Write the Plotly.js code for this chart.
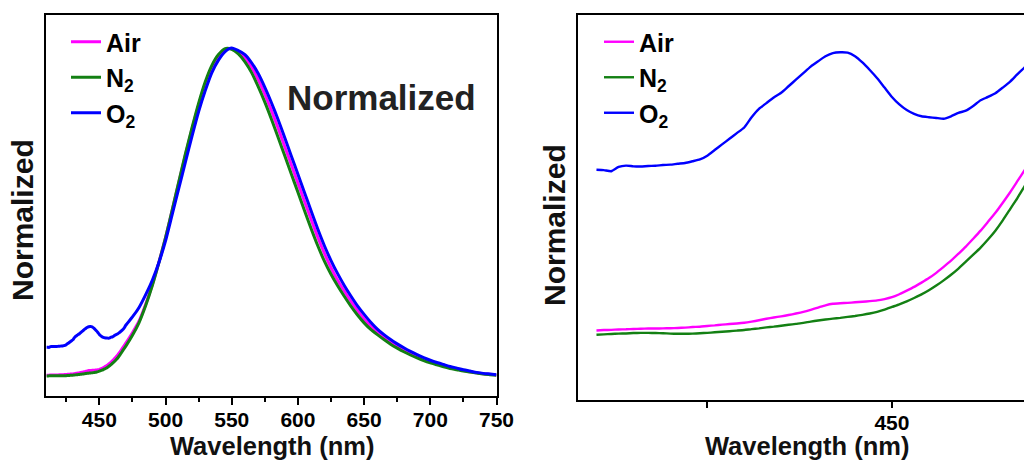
<!DOCTYPE html>
<html>
<head>
<meta charset="utf-8">
<script src="https://cdn.plot.ly/plotly-3.0.1.min.js"></script>
<style>
html, body { margin:0; padding:0; overflow:hidden; background:#fff; }
#chart { width:1060px; height:461px; }
</style>
</head>
<body>
<div id="chart"></div>
<script>
// Wavelength grid (nm)
const wavelength = [
  410,411,412,413,414,415,416,417,418,419,420,421,422,423,424,425,426,427,428,429,
  430,431,432,433,434,435,436,437,438,439,440,441,442,443,444,445,446,447,448,449,
  450,451,452,453,454,455,456,457,458,459,460,461,462,463,464,465,466,467,468,469,470,
  475,480,485,490,495,500,505,510,515,520,525,530,535,540,545,550,
  555,560,565,570,575,580,585,590,595,600,605,610,615,620,625,630,635,640,645,650,
  655,660,665,670,675,680,685,690,695,700,705,710,715,720,725,730,735,740,745,750
];

// Normalized intensity – Air
const airValues = [
  0.0023,0.0025,0.0026,0.0028,0.0029,0.0031,0.0032,0.0033,0.0033,0.0034,0.0035,0.0036,0.0038,0.0041,0.0043,0.0047,0.0050,0.0054,0.0057,0.0060,
  0.0064,0.0070,0.0077,0.0085,0.0092,0.0098,0.0105,0.0113,0.0122,0.0133,0.0145,0.0157,0.0165,0.0168,0.0170,0.0173,0.0176,0.0179,0.0183,0.0190,
  0.0200,0.0216,0.0235,0.0255,0.0278,0.0302,0.0330,0.0362,0.0395,0.0432,0.0470,0.0512,0.0555,0.0602,0.0650,0.0704,0.0760,0.0820,0.0880,0.0940,0.1000,
  0.132,0.168,0.219,0.278,0.347,0.422,0.505,0.590,0.674,0.753,0.826,0.890,0.940,0.975,0.995,0.998,
  0.988,0.970,0.942,0.904,0.859,0.809,0.756,0.700,0.644,0.588,0.532,0.477,0.423,0.374,0.330,0.292,0.259,0.228,0.200,0.174,
  0.152,0.134,0.118,0.104,0.091,0.080,0.069,0.060,0.051,0.044,0.037,0.031,0.026,0.021,0.017,0.013,0.010,0.007,0.005,0.003
];

// Normalized intensity – N2
const n2Values = [
  0.0000,0.0002,0.0004,0.0006,0.0007,0.0009,0.0010,0.0010,0.0009,0.0008,0.0006,0.0005,0.0005,0.0006,0.0008,0.0010,0.0013,0.0016,0.0019,0.0022,
  0.0025,0.0030,0.0034,0.0039,0.0043,0.0048,0.0053,0.0058,0.0063,0.0070,0.0076,0.0081,0.0086,0.0090,0.0095,0.0100,0.0106,0.0113,0.0122,0.0134,
  0.0148,0.0162,0.0178,0.0196,0.0215,0.0237,0.0262,0.0290,0.0320,0.0353,0.0390,0.0427,0.0465,0.0508,0.0555,0.0610,0.0670,0.0730,0.0795,0.0850,0.0910,
  0.124,0.163,0.215,0.276,0.346,0.422,0.506,0.592,0.677,0.757,0.832,0.897,0.947,0.980,0.998,0.996,
  0.982,0.958,0.925,0.882,0.835,0.783,0.728,0.672,0.616,0.560,0.504,0.449,0.397,0.350,0.310,0.275,0.243,0.213,0.186,0.162,
  0.142,0.126,0.111,0.097,0.085,0.074,0.064,0.055,0.047,0.040,0.034,0.028,0.023,0.019,0.015,0.012,0.009,0.006,0.004,0.002
];

// Normalized intensity – O2
const o2Values = [
  0.0880,0.0878,0.0872,0.0895,0.0902,0.0898,0.0897,0.0900,0.0901,0.0905,0.0907,0.0912,0.0916,0.0925,0.0935,0.0955,0.0985,0.1015,0.1045,0.1075,
  0.1105,0.1160,0.1205,0.1235,0.1265,0.1290,0.1325,0.1360,0.1395,0.1430,0.1458,0.1485,0.1502,0.1506,0.1504,0.1485,0.1452,0.1412,0.1368,0.1318,
  0.1268,0.1228,0.1198,0.1178,0.1165,0.1160,0.1156,0.1152,0.1165,0.1183,0.1195,0.1220,0.1250,0.1268,0.1288,0.1318,0.1350,0.1390,0.1428,0.1480,0.1550,
  0.180,0.209,0.248,0.292,0.346,0.412,0.492,0.572,0.652,0.731,0.806,0.870,0.925,0.963,0.989,1.000,
  0.992,0.980,0.955,0.922,0.880,0.833,0.782,0.727,0.671,0.615,0.559,0.503,0.448,0.397,0.352,0.312,0.276,0.244,0.214,0.188,
  0.164,0.143,0.126,0.111,0.098,0.086,0.075,0.065,0.056,0.048,0.041,0.035,0.029,0.024,0.019,0.015,0.011,0.008,0.006,0.004
];

const seriesNames = ['Air', 'N<sub>2</sub>', 'O<sub>2</sub>'];
const seriesValues = [airValues, n2Values, o2Values];
const seriesColors = ['#ff00ff', '#138013', '#0000ff'];

const W = 1060, H = 461;
const FONT = 'Arial, "Liberation Sans", sans-serif';

const traces = [];
seriesNames.forEach((name, i) => {
  traces.push({
    x: wavelength, y: seriesValues[i], type: 'scatter', mode: 'lines',
    name: name, line: {color: seriesColors[i], width: 3, shape: 'spline', smoothing: 0.6},
    xaxis: 'x', yaxis: 'y', legend: 'legend', legendgroup: 'L' + i
  });
});
seriesNames.forEach((name, i) => {
  traces.push({
    x: wavelength, y: seriesValues[i], type: 'scatter', mode: 'lines',
    name: name, line: {color: seriesColors[i], width: 2.4, shape: 'spline', smoothing: 0.5},
    xaxis: 'x2', yaxis: 'y2', legend: 'legend2', legendgroup: 'R' + i
  });
});

const px = v => v / W;
const py = v => (H - v) / H;

const axisCommon = {
  showline: true, linecolor: '#000', linewidth: 2, mirror: true,
  showgrid: false, zeroline: false,
  tickfont: {family: FONT, size: 21, color: '#000', weight: 'bold'},
  ticks: 'outside', tickcolor: '#000', tickwidth: 2
};

const legendCommon = {
  font: {family: FONT, size: 25, color: '#000', weight: 'bold'},
  bgcolor: 'rgba(0,0,0,0)', borderwidth: 0,
  xanchor: 'left', yanchor: 'top', tracegroupgap: 0, itemwidth: 30
};

const layout = {
  width: W, height: H,
  margin: {l: 0, r: 0, t: 0, b: 0},
  paper_bgcolor: '#fff', plot_bgcolor: '#fff',
  showlegend: true,
  xaxis: Object.assign({}, axisCommon, {
    domain: [px(46.4), px(496.5)], range: [410, 750],
    tick0: 400, dtick: 50, ticklen: 7, ticklabelstandoff: -3,
    minor: {dtick: 25, ticklen: 4, tickcolor: '#000', tickwidth: 2, ticks: 'outside'},
    anchor: 'y'
  }),
  yaxis: Object.assign({}, axisCommon, {
    domain: [py(396), py(15)], range: [-0.061, 1.1006],
    showticklabels: false, ticks: '', anchor: 'x'
  }),
  xaxis2: Object.assign({}, axisCommon, {
    domain: [px(578), px(1036)], range: [407.5, 469.5],
    tick0: 400, dtick: 50, ticklen: 6, ticklabelstandoff: -3,
    minor: {dtick: 25, ticklen: 6, tickcolor: '#000', tickwidth: 2, ticks: 'outside'},
    anchor: 'y2'
  }),
  yaxis2: Object.assign({}, axisCommon, {
    domain: [py(400), py(15)], range: [-0.0348, 0.1705],
    showticklabels: false, ticks: '', anchor: 'x2'
  }),
  legend: Object.assign({}, legendCommon, {x: px(66), y: py(19)}),
  legend2: Object.assign({}, legendCommon, {x: px(599), y: py(19)}),
  annotations: [
    {text: 'Wavelength (nm)', xref: 'paper', yref: 'paper', x: px(272), y: py(446),
     xanchor: 'center', yanchor: 'middle', showarrow: false,
     font: {family: FONT, size: 25.5, color: '#111', weight: 'bold'}},
    {text: 'Wavelength (nm)', xref: 'paper', yref: 'paper', x: px(807), y: py(446),
     xanchor: 'center', yanchor: 'middle', showarrow: false,
     font: {family: FONT, size: 25.5, color: '#111', weight: 'bold'}},
    {text: 'Normalized', xref: 'paper', yref: 'paper', x: px(23), y: py(220),
     xanchor: 'center', yanchor: 'middle', showarrow: false, textangle: -90,
     font: {family: FONT, size: 30, color: '#111', weight: 'bold'}},
    {text: 'Normalized', xref: 'paper', yref: 'paper', x: px(554), y: py(225),
     xanchor: 'center', yanchor: 'middle', showarrow: false, textangle: -90,
     font: {family: FONT, size: 30, color: '#111', weight: 'bold'}},
    {text: 'Normalized', xref: 'paper', yref: 'paper', x: px(381), y: py(97),
     xanchor: 'center', yanchor: 'middle', showarrow: false,
     font: {family: FONT, size: 35, color: '#222', weight: 'bold'}}
  ]
};

Plotly.newPlot('chart', traces, layout, {staticPlot: true, displayModeBar: false});
</script>
</body>
</html>
